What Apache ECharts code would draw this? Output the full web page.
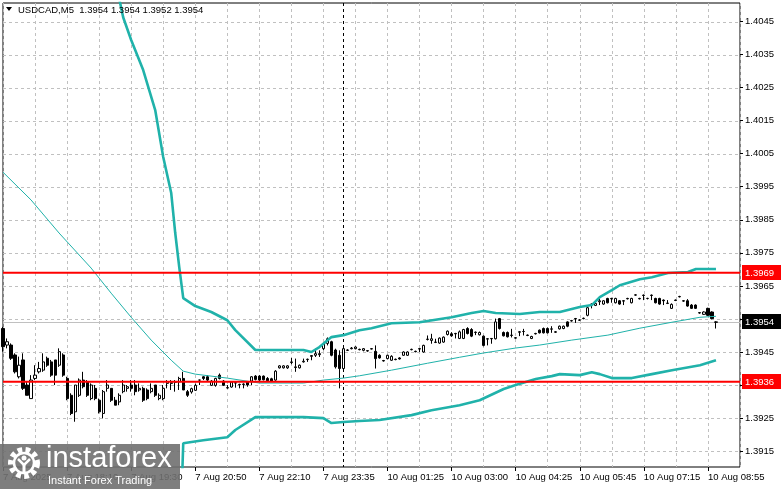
<!DOCTYPE html>
<html><head><meta charset="utf-8">
<script src="https://cdn.jsdelivr.net/npm/echarts@6/dist/echarts.min.js"></script>
<style>html,body{margin:0;padding:0;background:#fff}#c{width:781px;height:489px}</style>
</head><body><div id="c"></div>
<script>
const symbol = 'USDCAD,M5';
const tickLabels = ['7 Aug 2025','7 Aug 18:10','7 Aug 19:30','7 Aug 20:50','7 Aug 22:10','7 Aug 23:35','10 Aug 01:25','10 Aug 03:00','10 Aug 04:25','10 Aug 05:45','10 Aug 07:15','10 Aug 08:55'];
const barsPerLabel = 16;
const barsPerGrid = 8;
const totalSlots = 185;
const yTicks = [1.4045,1.4035,1.4025,1.4015,1.4005,1.3995,1.3985,1.3975,1.3965,1.3955,1.3945,1.3935,1.3925,1.3915];
const yMin = 1.39102, yMax = 1.40506;
const levels = [1.3969, 1.3936];
const markerBar = 85;
// [open, close, low, high]
const ohlc = [
[1.39521,1.39466,1.39451,1.39526],[1.39471,1.39481,1.39461,1.39491],[1.39471,1.39431,1.39426,1.39476],[1.39441,1.39390,1.39385,1.39446],
[1.39375,1.39410,1.39370,1.39436],[1.39426,1.39340,1.39335,1.39446],[1.39350,1.39319,1.39319,1.39360],[1.39309,1.39365,1.39309,1.39380],
[1.39370,1.39380,1.39365,1.39410],[1.39390,1.39400,1.39385,1.39420],[1.39395,1.39420,1.39390,1.39446],[1.39431,1.39410,1.39405,1.39436],
[1.39420,1.39380,1.39375,1.39426],[1.39426,1.39380,1.39350,1.39426],[1.39410,1.39451,1.39405,1.39461],[1.39441,1.39380,1.39375,1.39446],
[1.39370,1.39309,1.39304,1.39375],[1.39319,1.39264,1.39259,1.39325],[1.39269,1.39350,1.39239,1.39350],[1.39319,1.39365,1.39314,1.39370],
[1.39365,1.39345,1.39340,1.39390],[1.39360,1.39319,1.39314,1.39365],[1.39309,1.39350,1.39304,1.39355],[1.39340,1.39309,1.39304,1.39350],
[1.39304,1.39269,1.39264,1.39309],[1.39264,1.39330,1.39249,1.39335],[1.39340,1.39350,1.39330,1.39365],[1.39340,1.39304,1.39299,1.39340],
[1.39304,1.39289,1.39289,1.39314],[1.39299,1.39319,1.39289,1.39325],[1.39330,1.39350,1.39325,1.39365],[1.39340,1.39345,1.39330,1.39350],
[1.39350,1.39340,1.39330,1.39365],[1.39350,1.39330,1.39319,1.39365],[1.39335,1.39340,1.39330,1.39355],[1.39340,1.39304,1.39299,1.39345],
[1.39335,1.39309,1.39304,1.39340],[1.39330,1.39340,1.39325,1.39355],[1.39350,1.39319,1.39314,1.39350],[1.39309,1.39319,1.39304,1.39325],
[1.39309,1.39340,1.39304,1.39350],[1.39355,1.39360,1.39340,1.39365],[1.39355,1.39357,1.39335,1.39365],[1.39358,1.39360,1.39330,1.39365],
[1.39360,1.39370,1.39335,1.39375],[1.39370,1.39335,1.39335,1.39390],[1.39330,1.39319,1.39314,1.39335],[1.39329,1.39339,1.39324,1.39342],
[1.39334,1.39349,1.39332,1.39354],[1.39365,1.39365,1.39350,1.39366],[1.39375,1.39370,1.39365,1.39377],[1.39375,1.39365,1.39362,1.39380],
[1.39349,1.39362,1.39347,1.39365],[1.39349,1.39370,1.39345,1.39372],[1.39380,1.39370,1.39367,1.39385],[1.39362,1.39349,1.39347,1.39365],
[1.39342,1.39341,1.39339,1.39350],[1.39344,1.39359,1.39342,1.39362],[1.39357,1.39356,1.39342,1.39359],[1.39352,1.39351,1.39340,1.39354],
[1.39353,1.39352,1.39340,1.39355],[1.39359,1.39350,1.39345,1.39362],[1.39362,1.39375,1.39350,1.39377],[1.39377,1.39367,1.39364,1.39380],
[1.39377,1.39365,1.39362,1.39380],[1.39377,1.39366,1.39364,1.39379],[1.39370,1.39363,1.39360,1.39374],[1.39369,1.39362,1.39360,1.39372],
[1.39365,1.39392,1.39363,1.39395],[1.39402,1.39408,1.39400,1.39410],[1.39402,1.39408,1.39400,1.39410],[1.39402,1.39408,1.39399,1.39410],
[1.39418,1.39420,1.39413,1.39432],[1.39403,1.39405,1.39390,1.39430],[1.39402,1.39410,1.39400,1.39412],[1.39420,1.39422,1.39418,1.39430],
[1.39427,1.39428,1.39420,1.39430],[1.39439,1.39437,1.39425,1.39440],[1.39440,1.39445,1.39435,1.39460],[1.39442,1.39445,1.39435,1.39455],
[1.39460,1.39475,1.39455,1.39478],[1.39476,1.39490,1.39470,1.39494],[1.39481,1.39440,1.39437,1.39484],[1.39456,1.39405,1.39400,1.39460],
[1.39440,1.39400,1.39340,1.39455],[1.39400,1.39460,1.39395,1.39465],[1.39455,1.39456,1.39453,1.39458],[1.39460,1.39462,1.39458,1.39465],
[1.39460,1.39465,1.39458,1.39467],[1.39458,1.39457,1.39455,1.39460],[1.39455,1.39460,1.39452,1.39462],[1.39454,1.39453,1.39451,1.39456],
[1.39459,1.39460,1.39458,1.39462],[1.39452,1.39430,1.39400,1.39470],[1.39440,1.39432,1.39430,1.39443],[1.39424,1.39423,1.39421,1.39426],
[1.39430,1.39440,1.39428,1.39442],[1.39425,1.39437,1.39423,1.39440],[1.39428,1.39427,1.39425,1.39430],[1.39432,1.39429,1.39427,1.39434],
[1.39440,1.39450,1.39438,1.39452],[1.39440,1.39450,1.39438,1.39452],[1.39457,1.39458,1.39455,1.39460],[1.39452,1.39451,1.39449,1.39454],
[1.39460,1.39459,1.39450,1.39461],[1.39450,1.39470,1.39448,1.39472],[1.39488,1.39489,1.39485,1.39500],[1.39485,1.39490,1.39475,1.39505],
[1.39479,1.39480,1.39477,1.39490],[1.39477,1.39492,1.39475,1.39494],[1.39480,1.39495,1.39478,1.39497],[1.39503,1.39513,1.39500,1.39515],
[1.39505,1.39499,1.39496,1.39510],[1.39506,1.39505,1.39491,1.39508],[1.39491,1.39511,1.39489,1.39515],[1.39491,1.39518,1.39489,1.39520],
[1.39521,1.39506,1.39503,1.39525],[1.39518,1.39498,1.39495,1.39522],[1.39510,1.39509,1.39501,1.39512],[1.39502,1.39509,1.39500,1.39512],
[1.39498,1.39470,1.39467,1.39500],[1.39490,1.39489,1.39470,1.39492],[1.39491,1.39490,1.39475,1.39492],[1.39490,1.39541,1.39488,1.39551],
[1.39551,1.39521,1.39518,1.39553],[1.39509,1.39499,1.39497,1.39512],[1.39509,1.39496,1.39494,1.39512],[1.39500,1.39501,1.39494,1.39520],
[1.39493,1.39492,1.39490,1.39495],[1.39511,1.39510,1.39498,1.39513],[1.39512,1.39512,1.39500,1.39520],[1.39501,1.39500,1.39498,1.39503],
[1.39491,1.39497,1.39489,1.39499],[1.39506,1.39505,1.39503,1.39508],[1.39516,1.39508,1.39506,1.39518],[1.39521,1.39508,1.39506,1.39524],
[1.39521,1.39508,1.39506,1.39524],[1.39519,1.39520,1.39508,1.39528],[1.39511,1.39510,1.39508,1.39513],[1.39520,1.39528,1.39518,1.39530],
[1.39521,1.39528,1.39519,1.39530],[1.39541,1.39528,1.39525,1.39543],[1.39544,1.39545,1.39542,1.39547],[1.39551,1.39550,1.39538,1.39553],
[1.39546,1.39547,1.39544,1.39549],[1.39551,1.39552,1.39549,1.39554],[1.39561,1.39584,1.39558,1.39587],[1.39595,1.39594,1.39582,1.39597],
[1.39591,1.39597,1.39589,1.39602],[1.39602,1.39605,1.39592,1.39614],[1.39595,1.39605,1.39593,1.39607],[1.39612,1.39599,1.39597,1.39614],
[1.39612,1.39611,1.39599,1.39614],[1.39599,1.39612,1.39597,1.39614],[1.39605,1.39595,1.39593,1.39607],[1.39605,1.39604,1.39592,1.39607],
[1.39612,1.39611,1.39609,1.39614],[1.39599,1.39612,1.39597,1.39614],[1.39622,1.39623,1.39620,1.39625],[1.39612,1.39611,1.39609,1.39614],
[1.39622,1.39621,1.39607,1.39624],[1.39612,1.39612,1.39609,1.39614],[1.39622,1.39621,1.39607,1.39624],[1.39612,1.39599,1.39597,1.39614],
[1.39612,1.39595,1.39593,1.39614],[1.39607,1.39605,1.39592,1.39609],[1.39597,1.39598,1.39595,1.39607],[1.39582,1.39594,1.39580,1.39597],
[1.39607,1.39606,1.39604,1.39609],[1.39617,1.39618,1.39615,1.39620],[1.39605,1.39604,1.39602,1.39607],[1.39605,1.39589,1.39587,1.39610],
[1.39592,1.39582,1.39580,1.39595],[1.39592,1.39582,1.39580,1.39594],[1.39569,1.39568,1.39566,1.39571],[1.39564,1.39571,1.39562,1.39573],
[1.39582,1.39561,1.39559,1.39584],[1.39571,1.39551,1.39549,1.39573],[1.39541,1.39540,1.39521,1.39543]
];
// Bollinger bands: [bar index, price]
const upperBand = [[29,1.40520],[30,1.40463],[32,1.40394],[35,1.40303],[38,1.40182],[40,1.40040],[42,1.39931],[43,1.39810],[44,1.39707],[45,1.39613],[48,1.39589],[52,1.39571],[56,1.39546],[58,1.39516],[63,1.39456],[75,1.39456],[77,1.39450],[79,1.39465],[82,1.39495],[85,1.39501],[89,1.39516],[92,1.39522],[97,1.39537],[104,1.39540],[112,1.39555],[117,1.39568],[120,1.39574],[123,1.39568],[129,1.39565],[134,1.39571],[139,1.39571],[144,1.39586],[147,1.39592],[149,1.39616],[152,1.39637],[154,1.39652],[159,1.39670],[162,1.39676],[166,1.39689],[171,1.39692],[173,1.39701],[178,1.39701]];
const middleBand = [[0,1.39994],[7,1.39910],[14,1.39810],[22,1.39704],[27,1.39628],[32,1.39555],[37,1.39486],[42,1.39425],[45,1.39392],[48,1.39383],[56,1.39371],[64,1.39356],[75,1.39356],[80,1.39365],[85,1.39371],[89,1.39378],[97,1.39395],[106,1.39416],[114,1.39434],[120,1.39447],[128,1.39462],[134,1.39471],[142,1.39486],[151,1.39501],[159,1.39522],[167,1.39540],[174,1.39555],[178,1.39558]];
const lowerBand = [[44,1.38800],[45,1.39174],[50,1.39183],[56,1.39192],[58,1.39214],[63,1.39253],[75,1.39253],[80,1.39250],[82,1.39235],[85,1.39238],[89,1.39241],[94,1.39244],[102,1.39259],[107,1.39274],[114,1.39289],[119,1.39304],[125,1.39338],[128,1.39350],[133,1.39368],[137,1.39377],[139,1.39383],[144,1.39380],[147,1.39389],[149,1.39383],[152,1.39371],[157,1.39371],[162,1.39383],[167,1.39395],[174,1.39410],[178,1.39425]];

const FONT = '"Liberation Sans", Arial, sans-serif';
const TEAL = '#20b2aa';
const slots = Array.from({length: totalSlots}, (_, i) => String(i));
const last = ohlc[ohlc.length - 1];
const header = symbol + '  ' + [last[0], last[3], last[2], last[1]].map(v => v.toFixed(4)).join(' ');
const lastClose = last[1];
const gridValues = yTicks.slice();

function hSeg(cs, y, color, width) {
  return {type: 'line', shape: {x1: cs.x, y1: y, x2: cs.x + cs.width, y2: y},
    style: {stroke: color, lineWidth: width}};
}
function tag(cs, y, v, bg) {
  return [
    {type: 'rect', shape: {x: cs.x + cs.width + 2, y: Math.round(y) - 8, width: 40, height: 15}, style: {fill: bg}},
    {type: 'text', x: cs.x + cs.width + 5, y: Math.round(y),
      style: {text: v.toFixed(4), fill: '#fff', font: '9.5px ' + FONT, verticalAlign: 'middle', align: 'left'}}
  ];
}

const chart = echarts.init(document.getElementById('c'), null, {renderer: 'canvas'});
chart.setOption({
  animation: false,
  backgroundColor: '#fff',
  grid: {left: 3, right: 41, top: 3, bottom: 22, show: true, borderColor: '#000', borderWidth: 1},
  xAxis: {
    type: 'category', data: slots, boundaryGap: false,
    axisLine: {show: false},
    axisTick: {show: true, interval: (i) => i % barsPerLabel === 0, length: 4, lineStyle: {color: '#000'}},
    axisLabel: {interval: (i) => i % barsPerLabel === 0, formatter: (v, i) => tickLabels[Math.round(i / barsPerLabel)] || '',
      align: 'left', margin: 5, fontFamily: FONT, fontSize: 9.5, color: '#000'},
    splitLine: {show: true, interval: (i) => i % barsPerGrid === 0, lineStyle: {color: '#c0c0c0', type: [3, 3], width: 1}}
  },
  yAxis: {
    type: 'value', position: 'right', min: yMin, max: yMax, scale: true,
    axisLine: {show: false},
    axisTick: {show: true, customValues: yTicks.slice(), length: 3, lineStyle: {color: '#000'}},
    axisLabel: {customValues: yTicks.slice(), formatter: (v) => Number(v).toFixed(4), margin: 5, fontFamily: FONT, fontSize: 9.5, color: '#000'},
    splitLine: {show: false}
  },
  series: [
    {type: 'custom', name: 'background', silent: true, z: 2, clip: false,
      data: [[markerBar, lastClose]],
      renderItem: function (params, api) {
        const cs = params.coordSys;
        const children = [];
        gridValues.forEach(t => {
          const y = Math.round(api.coord([0, t])[1]);
          for (let x = cs.x; x < cs.x + cs.width; x += 6) {
            children.push({type: 'rect', shape: {x: x, y: y, width: Math.min(3, cs.x + cs.width - x), height: 1},
              style: {fill: '#c0c0c0'}});
          }
        });
        const p = api.coord([api.value(0), api.value(1)]);
        children.push(hSeg(cs, Math.round(p[1]) + 0.5, '#c0c0c0', 1));
        const x = Math.round(p[0]) + 0.5;
        children.push({type: 'line', shape: {x1: x, y1: cs.y, x2: x, y2: cs.y + cs.height},
          style: {stroke: '#000', lineWidth: 1, lineDash: [3, 3]}});
        return {type: 'group', children: children};
      }},
    {
      type: 'candlestick', data: ohlc, barWidth: 2.6, z: 3,
      itemStyle: {color: '#fff', color0: '#000', borderColor: '#000', borderColor0: '#000', borderWidth: 1}
    },
    {type: 'line', data: middleBand, showSymbol: false, z: 4, lineStyle: {color: TEAL, width: 1}},
    {type: 'line', data: upperBand, showSymbol: false, z: 4, lineStyle: {color: TEAL, width: 2.6}},
    {type: 'line', data: lowerBand, showSymbol: false, z: 4, lineStyle: {color: TEAL, width: 2.6}},
    {type: 'custom', name: 'levels', silent: true, z: 5, clip: false,
      data: levels.map(v => [0, v]),
      renderItem: function (params, api) {
        const cs = params.coordSys;
        const v = api.value(1);
        const y = api.coord([0, v])[1];
        return {type: 'group', children: [hSeg(cs, y, '#ff0000', 2)].concat(tag(cs, y, v, '#ff0000'))};
      }},
    {type: 'custom', name: 'priceTag', silent: true, z: 6, clip: false,
      data: [[0, lastClose]],
      renderItem: function (params, api) {
        const cs = params.coordSys;
        const v = api.value(1);
        const y = api.coord([0, v])[1];
        return {type: 'group', children: tag(cs, y, v, '#000')};
      }}
  ],
  graphic: [
    {type: 'polygon', z: 100, shape: {points: [[6, 7], [12, 7], [9, 11]]}, style: {fill: '#000'}},
    {type: 'text', z: 100, x: 18, y: 10, style: {text: header, fill: '#000', font: '9.5px ' + FONT, verticalAlign: 'middle'}},
    {type: 'rect', z: 100, shape: {x: 0, y: 444, width: 180, height: 45}, style: {fill: 'rgba(112,112,112,0.9)'}},
    {type: 'circle', z: 101, shape: {cx: 24, cy: 463, r: 13}, style: {fill: 'none', stroke: '#fff', lineWidth: 6, lineDash: [4.5, 3.3]}},
    {type: 'circle', z: 101, shape: {cx: 24, cy: 463, r: 10}, style: {fill: 'none', stroke: '#fff', lineWidth: 2.5}},
    {type: 'circle', z: 101, shape: {cx: 24, cy: 458, r: 2.5}, style: {fill: '#fff'}},
    {type: 'polyline', z: 101, shape: {points: [[18, 459], [24, 465], [30, 459]]}, style: {stroke: '#fff', lineWidth: 2.5, fill: 'none'}},
    {type: 'line', z: 101, shape: {x1: 24, y1: 465, x2: 24, y2: 474}, style: {stroke: '#fff', lineWidth: 3}},
    {type: 'text', z: 101, x: 46, y: 473, style: {text: 'instaforex', fill: '#fff', font: '29px ' + FONT, verticalAlign: 'bottom'}},
    {type: 'text', z: 101, x: 48, y: 481, style: {text: 'Instant Forex Trading', fill: '#fff', font: '11px ' + FONT, verticalAlign: 'middle'}}
  ]
});
</script>
</body></html>
